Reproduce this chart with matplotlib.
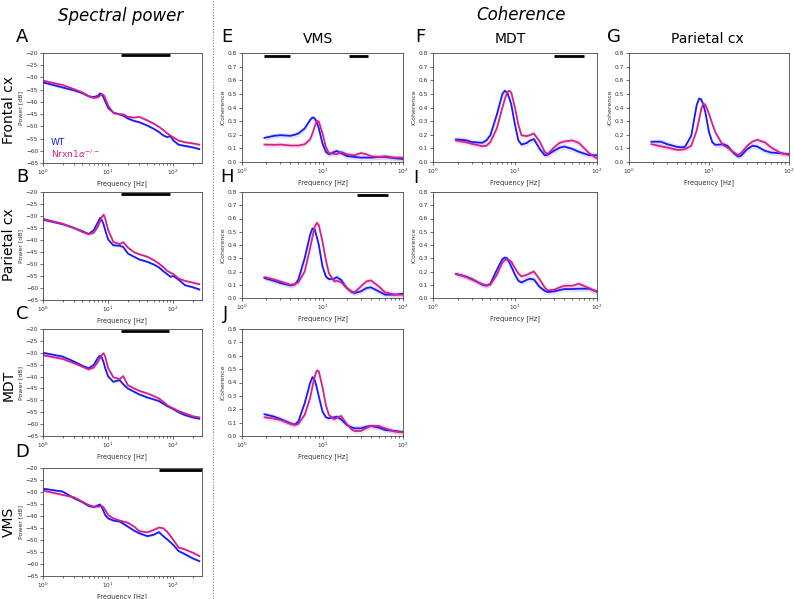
import matplotlib
matplotlib.use("Agg")
import matplotlib.pyplot as plt
from matplotlib.lines import Line2D
import numpy as np

plt.rcParams['font.family'] = ['DejaVu Sans']

WT_COLOR = '#1a1aff'
KO_COLOR = '#d6218c'

# ---- spectral power (dB) ----
pow_freq = [1, 2, 3, 4, 5, 6, 7, 7.5, 8, 8.5, 9, 10, 12, 15, 17, 20, 25, 30, 40, 50, 60, 70, 80, 90, 100, 120, 150, 200, 250]

frontal_wt = [-32, -34.1, -35.3, -36.4, -37.7, -38, -37.5, -36.5, -37, -38.2, -39.8, -42.5, -44.4, -45.1, -45.6, -46.8, -47.8, -48.3, -49.7, -51, -52.3, -53.7, -54.4, -54, -55.8, -57.5, -58, -58.6, -59.3]
frontal_ko = [-31.3, -33.1, -34.8, -36.1, -37.6, -38.4, -38.1, -37.4, -36.8, -37.2, -38.5, -41.6, -44.5, -45.1, -45.1, -46.1, -46.4, -46.1, -47.6, -48.9, -50.2, -51.5, -52.8, -53.8, -54.5, -55.8, -56.5, -57, -57.5]

parietal_wt = [-31.5, -33.4, -35, -36.3, -37.5, -35.9, -32.5, -30.8, -31.8, -33.5, -35.9, -39.8, -42.2, -42.4, -42.9, -45.6, -47, -48.1, -49.1, -50.2, -51.4, -53, -54.2, -55.3, -55, -56.5, -58.8, -59.7, -60.6]
parietal_ko = [-31.2, -33.2, -35, -36.6, -37.6, -37, -34.3, -32.2, -30.4, -29.4, -31.1, -35.9, -40.8, -41.7, -40.9, -43.1, -45.1, -45.9, -47, -48.4, -49.8, -51.3, -52.8, -53.6, -54.2, -56, -57, -57.8, -58.4]

mdt_wt = [-30, -31.6, -33.7, -35.4, -36.5, -35.1, -32, -31.2, -32, -34, -36.5, -40, -42.2, -41.5, -43.2, -45, -46.4, -47.5, -48.8, -49.6, -50.3, -51.4, -52.4, -53.1, -53.7, -55, -56.2, -57.2, -57.7]
mdt_ko = [-31, -32.6, -34.4, -35.8, -37, -36.2, -33.7, -32.2, -30.9, -30.2, -31.6, -36.5, -40.3, -41.1, -39.8, -43.6, -45, -46, -47.1, -48.2, -49.2, -50.6, -52, -52.8, -53.4, -54.5, -55.5, -56.7, -57.2]

vms_wt = [-28.6, -29.8, -32.6, -34.2, -35.8, -36.3, -35.5, -35.2, -36.3, -38, -39.6, -41, -41.9, -42.3, -43.2, -44.4, -46.1, -47.2, -48.4, -47.8, -46.7, -48.4, -49.7, -50.9, -52.1, -54.6, -55.9, -57.7, -58.8]
vms_ko = [-29.4, -31.2, -32.2, -34, -35.4, -36.1, -36.1, -36, -35.8, -36.5, -37.5, -39.6, -41, -41.9, -42.3, -42.8, -44.4, -46.3, -46.8, -45.8, -44.8, -45.1, -46.5, -48.3, -50, -53.1, -53.9, -55.3, -56.7]

pow_sem = 0.5

# ---- imaginary coherence ----
coh_freq = [1.9, 2.5, 3, 4, 4.5, 5, 6, 7, 7.5, 8, 8.5, 9, 10, 11, 12, 14, 15, 17, 20, 23, 25, 30, 35, 40, 50, 60, 80, 100]

vms_coh_wt = [0.177, 0.192, 0.197, 0.192, 0.2, 0.209, 0.246, 0.308, 0.327, 0.32, 0.29, 0.246, 0.135, 0.074, 0.057, 0.074, 0.081, 0.066, 0.044, 0.04, 0.037, 0.032, 0.032, 0.032, 0.037, 0.037, 0.027, 0.022]
vms_coh_ko = [0.128, 0.126, 0.128, 0.121, 0.121, 0.121, 0.13, 0.165, 0.21, 0.259, 0.303, 0.296, 0.209, 0.111, 0.066, 0.06, 0.057, 0.074, 0.057, 0.052, 0.049, 0.066, 0.057, 0.042, 0.037, 0.042, 0.032, 0.032]

mdt_coh_wt = [0.166, 0.16, 0.146, 0.141, 0.16, 0.196, 0.347, 0.498, 0.523, 0.51, 0.47, 0.423, 0.272, 0.158, 0.128, 0.14, 0.155, 0.168, 0.096, 0.05, 0.053, 0.083, 0.105, 0.113, 0.096, 0.075, 0.05, 0.05]
mdt_coh_ko = [0.158, 0.145, 0.133, 0.116, 0.12, 0.146, 0.247, 0.397, 0.46, 0.51, 0.523, 0.51, 0.397, 0.272, 0.196, 0.19, 0.196, 0.209, 0.15, 0.075, 0.058, 0.108, 0.14, 0.151, 0.158, 0.141, 0.065, 0.025]

par_coh_wt = [0.149, 0.149, 0.131, 0.111, 0.108, 0.111, 0.193, 0.416, 0.465, 0.46, 0.42, 0.366, 0.218, 0.144, 0.126, 0.128, 0.131, 0.119, 0.069, 0.04, 0.045, 0.094, 0.119, 0.114, 0.082, 0.069, 0.064, 0.057]
par_coh_ko = [0.131, 0.115, 0.106, 0.089, 0.09, 0.094, 0.119, 0.23, 0.31, 0.391, 0.428, 0.421, 0.354, 0.28, 0.218, 0.15, 0.124, 0.106, 0.074, 0.052, 0.064, 0.119, 0.15, 0.163, 0.144, 0.106, 0.064, 0.052]

vms_mdt_wt = [0.15, 0.13, 0.1125, 0.095, 0.1, 0.1375, 0.3, 0.475, 0.525, 0.518, 0.46, 0.4, 0.2375, 0.1625, 0.1425, 0.145, 0.1575, 0.1375, 0.075, 0.045, 0.0375, 0.05, 0.075, 0.08, 0.05, 0.025, 0.025, 0.0325]
vms_mdt_ko = [0.1575, 0.14, 0.125, 0.1, 0.105, 0.1175, 0.2, 0.375, 0.46, 0.5375, 0.5675, 0.55, 0.425, 0.2875, 0.1875, 0.125, 0.13, 0.12, 0.075, 0.05, 0.0425, 0.0875, 0.125, 0.1325, 0.0875, 0.0425, 0.025, 0.025]

mdt_par_wt = [0.1825, 0.1625, 0.1425, 0.1, 0.0925, 0.1075, 0.2125, 0.2925, 0.305, 0.3, 0.27, 0.2375, 0.175, 0.13, 0.1175, 0.1375, 0.145, 0.14, 0.0825, 0.055, 0.045, 0.05, 0.06, 0.0675, 0.0675, 0.07, 0.07, 0.05]
mdt_par_ko = [0.18, 0.16, 0.1375, 0.105, 0.095, 0.1, 0.175, 0.2675, 0.285, 0.2925, 0.285, 0.275, 0.225, 0.185, 0.1625, 0.175, 0.185, 0.2, 0.14, 0.08, 0.0575, 0.0625, 0.08, 0.0925, 0.0925, 0.1075, 0.075, 0.045]

vms_par_wt = [0.1625, 0.145, 0.1275, 0.095, 0.085, 0.1075, 0.245, 0.395, 0.44, 0.42, 0.36, 0.295, 0.1825, 0.14, 0.1325, 0.14, 0.145, 0.125, 0.0825, 0.065, 0.0575, 0.0575, 0.07, 0.075, 0.0625, 0.045, 0.0375, 0.03]
vms_par_ko = [0.14, 0.13, 0.12, 0.09, 0.0825, 0.09, 0.1575, 0.2825, 0.37, 0.445, 0.49, 0.4825, 0.365, 0.2325, 0.1575, 0.125, 0.135, 0.15, 0.09, 0.05, 0.0375, 0.0375, 0.06, 0.075, 0.075, 0.0575, 0.0325, 0.0275]

coh_sem = 0.02

# significance bars (Hz)
sig_A = [(16, 90)]
sig_B = [(16, 90)]
sig_C = [(16, 85)]
sig_D = [(60, 275)]
sig_E = [(1.85, 4.0), (21.5, 37)]
sig_F = [(29.5, 69)]
sig_H = [(27, 65)]

W, H = 794, 599
fig = plt.figure(figsize=(W / 100, H / 100), dpi=100)


def px_axes(left, top, width, height):
    return fig.add_axes([left / W, 1 - (top + height) / H, width / W, height / H])


def style(ax):
    ax.set_xscale('log')
    ax.tick_params(labelsize=4.2, length=2, width=0.5, pad=1.5, colors='#333333')
    ax.tick_params(which='minor', length=1.2, width=0.4)
    for s in ax.spines.values():
        s.set_linewidth(0.6)
        s.set_color('#444444')
    ax.set_xlabel('Frequency [Hz]', fontsize=4.8, labelpad=2, color='#333333')


def power_panel(ax, wt, ko, sig):
    f = np.array(pow_freq)
    for y, c in ((wt, WT_COLOR), (ko, KO_COLOR)):
        y = np.array(y)
        ax.fill_between(f, y - pow_sem, y + pow_sem, color=c, alpha=0.15, lw=0)
        ax.plot(f, y, color=c, lw=1.3)
    for a, b in sig:
        ax.plot([a, b], [-21, -21], color='black', lw=2.0, solid_capstyle='butt')
    ax.set_xlim(1, 275)
    ax.set_ylim(-65, -20)
    ax.set_yticks(np.arange(-65, -19, 5))
    ax.set_ylabel('Power [dB]', fontsize=4.5, labelpad=2, color='#333333')
    style(ax)


def coh_panel(ax, wt, ko, sig):
    f = np.array(coh_freq)
    for y, c in ((wt, WT_COLOR), (ko, KO_COLOR)):
        y = np.array(y)
        ax.fill_between(f, y - coh_sem, y + coh_sem, color=c, alpha=0.12, lw=0)
        ax.plot(f, y, color=c, lw=1.3)
    for a, b in sig:
        ax.plot([a, b], [0.78, 0.78], color='black', lw=2.0, solid_capstyle='butt')
    ax.set_xlim(1, 100)
    ax.set_ylim(0, 0.8)
    ax.set_yticks(np.arange(0, 0.81, 0.1))
    ax.set_ylabel('iCoherence', fontsize=4.5, labelpad=2, color='#333333')
    style(ax)


# spectral power column
axA = px_axes(43, 53, 159, 110)
axB = px_axes(43, 192, 159, 108)
axC = px_axes(43, 329, 159, 107)
axD = px_axes(43, 468, 159, 108)
power_panel(axA, frontal_wt, frontal_ko, sig_A)
power_panel(axB, parietal_wt, parietal_ko, sig_B)
power_panel(axC, mdt_wt, mdt_ko, sig_C)
power_panel(axD, vms_wt, vms_ko, sig_D)

axA.text(0.05, 0.16, 'WT', color=WT_COLOR, fontsize=6.5, transform=axA.transAxes)
axA.text(0.05, 0.05, r'Nrxn1$\alpha^{-/-}$', color=KO_COLOR, fontsize=6.5, transform=axA.transAxes)

# coherence panels
axE = px_axes(242, 53, 161, 109)
axF = px_axes(433, 53, 164, 109)
axG = px_axes(629, 53, 160, 109)
axH = px_axes(242, 192, 161, 106)
axI = px_axes(433, 192, 164, 106)
axJ = px_axes(242, 329, 161, 107)
coh_panel(axE, vms_coh_wt, vms_coh_ko, sig_E)
coh_panel(axF, mdt_coh_wt, mdt_coh_ko, sig_F)
coh_panel(axG, par_coh_wt, par_coh_ko, [])
coh_panel(axH, vms_mdt_wt, vms_mdt_ko, sig_H)
coh_panel(axI, mdt_par_wt, mdt_par_ko, [])
coh_panel(axJ, vms_par_wt, vms_par_ko, [])

# headings
def ftext(x, y, s, **kw):
    fig.text(x / W, 1 - y / H, s, **kw)

ftext(121, 16, 'Spectral power', fontsize=12, style='italic', ha='center', va='center')
ftext(521, 15, 'Coherence', fontsize=12, style='italic', ha='center', va='center')
ftext(318, 39, 'VMS', fontsize=10, ha='center', va='center')
ftext(510, 39, 'MDT', fontsize=10, ha='center', va='center')
ftext(707, 39, 'Parietal cx', fontsize=10, ha='center', va='center')

for lab, x, y in [('A', 22, 37), ('B', 22, 177), ('C', 22, 314), ('D', 22, 452),
                  ('E', 227, 37), ('F', 420, 37), ('G', 614, 37),
                  ('H', 227, 177), ('I', 416, 178), ('J', 226, 314)]:
    ftext(x, y, lab, fontsize=13, ha='center', va='center')

for lab, y in [('Frontal cx', 110), ('Parietal cx', 245), ('MDT', 385), ('VMS', 522)]:
    ftext(9, y, lab, fontsize=10, rotation=90, ha='center', va='center')

fig.add_artist(Line2D([213 / W, 213 / W], [0, 1], transform=fig.transFigure,
                      color='#888888', lw=0.8, linestyle=(0, (1, 1.5))))

fig.savefig('out.png', dpi=100)
